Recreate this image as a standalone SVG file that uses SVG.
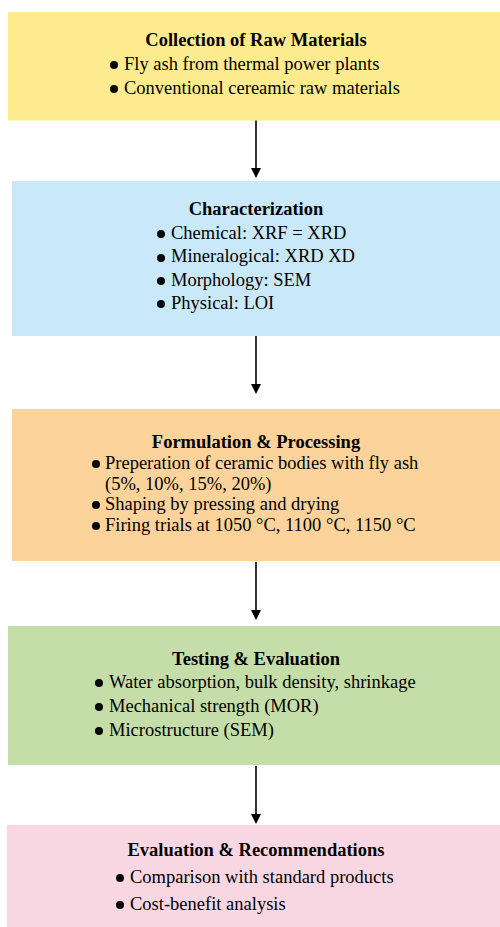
<svg xmlns="http://www.w3.org/2000/svg" width="500" height="927" viewBox="0 0 500 927">
<style>
.title{font-family:"Liberation Serif","Times New Roman",serif;font-weight:bold;font-size:18.5px;fill:#000;text-anchor:middle}
.item{font-family:"Liberation Serif","Times New Roman",serif;font-size:18.5px;fill:#000}
.dot{fill:#000}
.conn{stroke:#000;stroke-width:1.6;fill:none}
</style>
<defs>
<marker id="ah" markerWidth="10" markerHeight="10" refX="0" refY="5" orient="auto" markerUnits="userSpaceOnUse">
<path d="M0,0 L10,5 L0,10 Z" fill="#000"/>
</marker>
</defs>
<rect width="500" height="927" fill="#fff"/>
<g id="node1">
<rect x="8" y="12" width="492" height="108.5" fill="#FFEB8F"/>
<text class="title" x="256" y="46">Collection of Raw Materials</text>
<circle class="dot" cx="114" cy="65" r="4"/>
<text class="item" x="124" y="70">Fly ash from thermal power plants</text>
<circle class="dot" cx="114" cy="89" r="4"/>
<text class="item" x="124" y="94">Conventional cereamic raw materials</text>
</g>
<g id="node2">
<rect x="12" y="181" width="488" height="155" fill="#C9E8F9"/>
<text class="title" x="256" y="215">Characterization</text>
<circle class="dot" cx="161" cy="234" r="4"/>
<text class="item" x="171" y="238.5">Chemical: XRF = XRD</text>
<circle class="dot" cx="161" cy="258" r="4"/>
<text class="item" x="171" y="262">Mineralogical: XRD XD</text>
<circle class="dot" cx="161" cy="281" r="4"/>
<text class="item" x="171" y="285.5">Morphology: SEM</text>
<circle class="dot" cx="161" cy="304" r="4"/>
<text class="item" x="171" y="308.5">Physical: LOI</text>
</g>
<g id="node3">
<rect x="12" y="409" width="488" height="152" fill="#FCD39A"/>
<text class="title" x="256" y="448">Formulation &amp; Processing</text>
<circle class="dot" cx="96" cy="464" r="4"/>
<text class="item" x="105" y="469">Preperation of ceramic bodies with fly ash</text>
<text class="item" x="105" y="490">(5%, 10%, 15%, 20%)</text>
<circle class="dot" cx="96" cy="505" r="4"/>
<text class="item" x="105" y="510">Shaping by pressing and drying</text>
<circle class="dot" cx="96" cy="526" r="4"/>
<text class="item" x="105" y="531">Firing trials at 1050 °C, 1100 °C, 1150 °C</text>
</g>
<g id="node4">
<rect x="8" y="626" width="492" height="139" fill="#C5DEA9"/>
<text class="title" x="256" y="665">Testing &amp; Evaluation</text>
<circle class="dot" cx="99" cy="683" r="4"/>
<text class="item" x="109" y="688">Water absorption, bulk density, shrinkage</text>
<circle class="dot" cx="99" cy="707" r="4"/>
<text class="item" x="109" y="712">Mechanical strength (MOR)</text>
<circle class="dot" cx="99" cy="731" r="4"/>
<text class="item" x="109" y="735.5">Microstructure (SEM)</text>
</g>
<g id="node5">
<rect x="7" y="825" width="493" height="102" fill="#F8D7E3"/>
<text class="title" x="256" y="856">Evaluation &amp; Recommendations</text>
<circle class="dot" cx="120" cy="878" r="4"/>
<text class="item" x="130" y="883">Comparison with standard products</text>
<circle class="dot" cx="120" cy="905" r="4"/>
<text class="item" x="130" y="910">Cost-benefit analysis</text>
</g>
<g id="connectors">
<line class="conn" x1="256" y1="120.5" x2="256" y2="168" marker-end="url(#ah)"/>
<line class="conn" x1="256" y1="336" x2="256" y2="384" marker-end="url(#ah)"/>
<line class="conn" x1="256" y1="562" x2="256" y2="610" marker-end="url(#ah)"/>
<line class="conn" x1="256" y1="766" x2="256" y2="814" marker-end="url(#ah)"/>
</g>
</svg>
